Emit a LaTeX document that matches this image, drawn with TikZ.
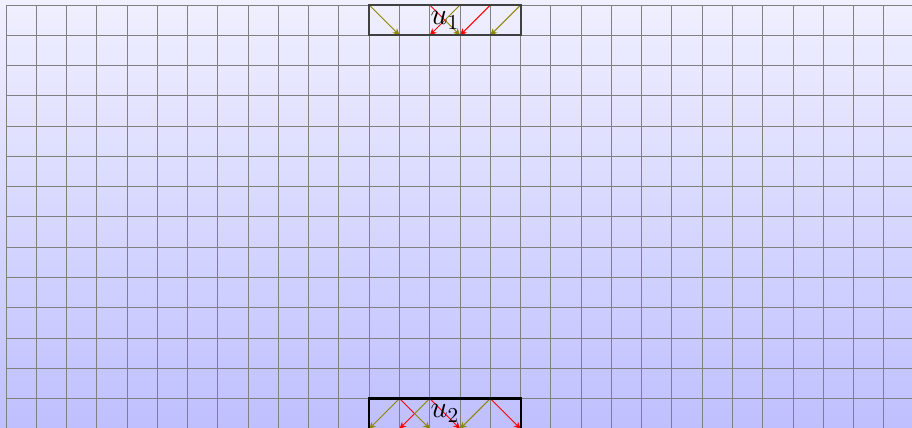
\documentclass[tikz,border=0pt]{standalone}
\usetikzlibrary{arrows.meta}
\begin{document}
\begin{tikzpicture}[x=0.5cm,y=0.5cm,
  gridline/.style={gray,line width=0.45pt},
  boxnode/.style={draw,line width=1pt,minimum width=2.5cm,minimum height=0.5cm,inner sep=0pt,outer sep=0pt,font=\Large},
  arr/.style={line width=0.45pt,-{Stealth[length=3.2pt,width=3pt]}},
  rarr/.style={arr,red},
  oarr/.style={arr,olive}]
\useasboundingbox (-0.198,0.165) rectangle (29.93,-13.97);
\shade[top color=blue!6,bottom color=blue!25] (-0.198,0.165) rectangle (29.93,-13.97);
\begin{scope}
\clip (-0.198,0.165) rectangle (29.93,-13.97);
\draw[gridline] (0,0) grid[step=1] (30,-14);
\foreach \i in {12,...,17}{
  \coordinate (a\i) at (\i,0);
  \coordinate (b\i) at (\i,-1);
  \coordinate (c\i) at (\i,-13);
  \coordinate (d\i) at (\i,-14);
}
\coordinate (m1) at (14.5,-0.5);
\coordinate (m2) at (13.5,-13.5);
% top box
\draw[oarr] (a12) -- (b13);
\draw[rarr] (a14) -- (m1) -- (b14);
\draw[oarr] (a15) -- (m1) -- (b15);
\draw[rarr] (a16) -- (b15);
\draw[oarr] (a17) -- (b16);
% bottom box
\draw[oarr] (c13) -- (d12);
\draw[rarr] (c13) -- (m2) -- (d13);
\draw[oarr] (c14) -- (m2) -- (d14);
\draw[rarr] (c14) -- (d15);
\draw[oarr] (c16) -- (d15);
\draw[rarr] (c16) -- (d17);
\node[boxnode,draw=black!75] (u1) at (14.5,-0.5) {$u_1$};
\node[boxnode] (u2) at (14.5,-13.5) {$u_2$};
\end{scope}
\end{tikzpicture}
\end{document}
